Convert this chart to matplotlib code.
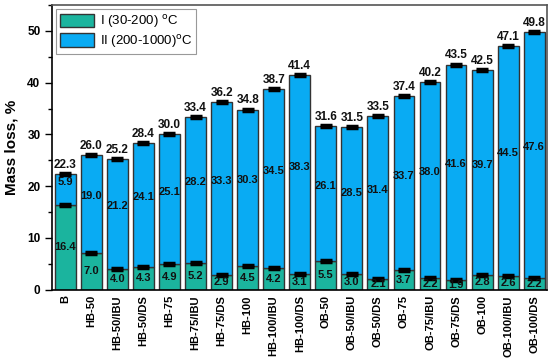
import numpy as np
import matplotlib.pyplot as plt
from matplotlib.ticker import MultipleLocator

plt.rcParams['font.family'] = ['Liberation Sans', 'DejaVu Sans']

samples = ['B', 'HB-50', 'HB-50/IBU', 'HB-50/DS', 'HB-75', 'HB-75/IBU', 'HB-75/DS',
           'HB-100', 'HB-100/IBU', 'HB-100/DS', 'OB-50', 'OB-50/IBU', 'OB-50/DS',
           'OB-75', 'OB-75/IBU', 'OB-75/DS', 'OB-100', 'OB-100/IBU', 'OB-100/DS']
stage1 = [16.4, 7.0, 4.0, 4.3, 4.9, 5.2, 2.9, 4.5, 4.2, 3.1, 5.5, 3.0, 2.1, 3.7, 2.2, 1.9, 2.8, 2.6, 2.2]
stage2 = [5.9, 19.0, 21.2, 24.1, 25.1, 28.2, 33.3, 30.3, 34.5, 38.3, 26.1, 28.5, 31.4, 33.7, 38.0, 41.6, 39.7, 44.5, 47.6]
total = [22.3, 26.0, 25.2, 28.4, 30.0, 33.4, 36.2, 34.8, 38.7, 41.4, 31.6, 31.5, 33.5, 37.4, 40.2, 43.5, 42.5, 47.1, 49.8]
err1 = [0.2] * len(samples)
err_tot = [0.2] * len(samples)

teal = '#1BB49E'
blue = '#09ABF3'

fig = plt.figure(figsize=(5.5, 3.62), dpi=100)
ax = fig.add_axes([0.095, 0.2, 0.9, 0.786])

x = np.arange(len(samples))
s1 = np.array(stage1)
s2 = np.array(stage2)
ax.bar(x, s1, width=0.8, color=teal, edgecolor='#333333', linewidth=1.0, label='I (30-200) $^{\\rm o}$C')
ax.bar(x, s2, width=0.8, bottom=s1, color=blue, edgecolor='#333333', linewidth=1.0, label='II (200-1000)$^{\\rm o}$C')

ax.errorbar(x, s1, yerr=err1, fmt='none', ecolor='black', elinewidth=2, capsize=4, capthick=2.5)
ax.errorbar(x, total, yerr=err_tot, fmt='none', ecolor='black', elinewidth=2, capsize=4, capthick=2.5)

for i in range(len(samples)):
    ax.text(x[i], s1[i] / 2, f'{stage1[i]:.1f}', ha='center', va='center',
            fontsize=8, fontweight='bold', color='#111111')
    ax.text(x[i], s1[i] + s2[i] / 2 + 1.5, f'{stage2[i]:.1f}', ha='center', va='center',
            fontsize=8, fontweight='bold', color='#111111')
    ax.text(x[i], total[i] + 0.6, f'{total[i]:.1f}', ha='center', va='bottom',
            fontsize=8.5, fontweight='bold', color='#111111')

ax.set_xlim(-0.5, 18.5)
ax.set_ylim(0, 55)
ax.set_xticks(x)
ax.set_xticklabels(samples, rotation=90, fontsize=8, fontweight='bold')
ax.tick_params(axis='x', length=0, pad=4)
ax.yaxis.set_major_locator(MultipleLocator(10))
ax.yaxis.set_minor_locator(MultipleLocator(5))
ax.tick_params(axis='y', which='major', length=5, width=1, labelsize=8.5)
ax.tick_params(axis='y', which='minor', length=3, width=1)
for lab in ax.get_yticklabels():
    lab.set_fontweight('bold')
ax.set_ylabel('Mass loss, %', fontsize=11, fontweight='bold', labelpad=6)

for side in ['left', 'bottom']:
    ax.spines[side].set_linewidth(1.2)
for side in ['top', 'right']:
    ax.spines[side].set_color('#555555')
    ax.spines[side].set_linewidth(1.2)

leg = ax.legend(loc='upper left', fontsize=9.5, handlelength=2.6, handleheight=1.2,
                fancybox=False, framealpha=1, edgecolor='#999999',
                borderaxespad=0.3, labelspacing=0.2, handletextpad=0.4, borderpad=0.3)
leg.get_frame().set_linewidth(0.8)

fig.savefig('out.png', dpi=100)
